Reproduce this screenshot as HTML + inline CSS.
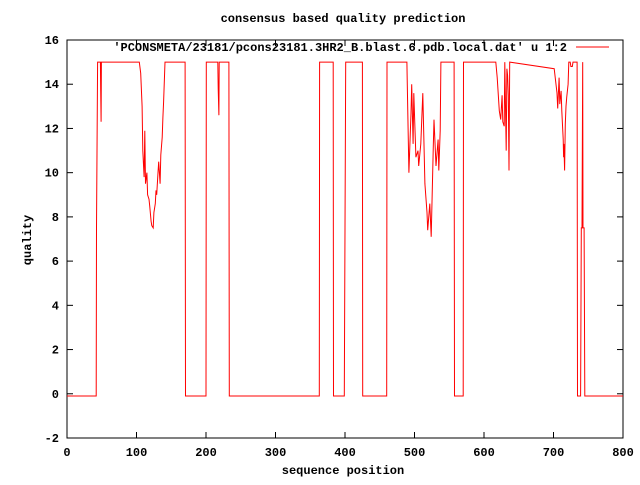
<!DOCTYPE html>
<html><head><meta charset="utf-8"><style>
body{margin:0;background:#fff}
svg text{font-family:"Liberation Mono",monospace;font-size:12px;font-weight:bold;fill:#000}
</style></head><body>
<svg id="chart" width="640" height="480" xmlns="http://www.w3.org/2000/svg">
<rect width="640" height="480" fill="#fff"/>
<text x="343" y="22" text-anchor="middle">consensus based quality prediction</text>
<text x="0" y="0" text-anchor="middle" transform="translate(31,240) rotate(-90)">quality</text>
<text x="343" y="474" text-anchor="middle">sequence position</text>
<g id="axes"></g>
<polyline id="series" fill="none" stroke="#f00" stroke-width="1"/>
<text x="567" y="51" text-anchor="end">'PCONSMETA/23181/pcons23181.3HR2_B.blast.6.pdb.local.dat' u 1:2</text>
<line x1="576" y1="47" x2="609" y2="47" stroke="#f00"/>
</svg>
<script>
const xTicks=[0,100,200,300,400,500,600,700,800];
const yTicks=[-2,0,2,4,6,8,10,12,14,16];
const positions=[
0,42,42.5,44,48,48.5,49,49.5,104,106,
108,109,111,112,113,115,116,118,119,121,
122,124,125,127,128,129,131,132,134,135,
137,138,139,141,170,170.5,200,200.5,217,217.5,
218.5,219,233,233.5,363,363.5,383,383.5,399,400,
401,425,425.5,460,460.5,489,489.5,492,495,496,
498,499,502,505,506,509,512,515,518,519,
522,524,527,528,531,534,535,537,538,557,
557.5,570,570.5,617,619,622,624,626,627,629,
630,632,633,634,635,636,637,701,705,706,
708,709,711,712,714,714.5,715,716,717,718,
719,721,722,724,725,727,728,734,734.5,739,
740,741,742,742.5,744,745,800];
const quality=[
-0.1,-0.1,7.5,15,15,13.7,12.3,15,15,14.5,
13,11,9.8,11.9,9.5,10,9,8.8,8.5,7.8,
7.6,7.5,8.2,8.6,9.2,9,10,10.5,9.5,10.8,
11.6,12.5,13.2,15,15,-0.1,-0.1,15,15,13.8,
12.6,15,15,-0.1,-0.1,15,15,-0.1,-0.1,7.5,
15,15,-0.1,-0.1,15,15,14.2,10.0,12.7,14.0,
11.3,13.6,10.7,11.0,10.3,11.3,13.6,9.5,8.2,7.4,
8.6,7.1,11.2,12.4,10.3,11.5,10.1,11.9,15,15,
-0.1,-0.1,15,15,14.3,12.8,12.4,13.5,12.3,12.1,
15,11.0,14.7,14.4,13.5,10.1,15,14.7,13.6,12.9,
14.3,13.1,13.7,12.8,11.5,10.7,11.3,10.1,12.2,13.0,
13.4,14.0,15,15,14.8,14.8,15,15,-0.1,-0.1,
7.5,7.5,15,7.5,7.5,-0.1,-0.1];
const X0=67,X1=623,Y0=438,Y1=40;
function sx(v){return X0+(v-0)/(800-0)*(X1-X0);}
function sy(v){return Y0-(v-(-2))/(16-(-2))*(Y0-Y1);}
const NS="http://www.w3.org/2000/svg";
const g=document.getElementById('axes');
function mk(tag,attrs){const e=document.createElementNS(NS,tag);for(const k in attrs)e.setAttribute(k,attrs[k]);g.appendChild(e);return e;}
const frame=mk('rect',{x:X0,y:Y1,width:X1-X0,height:Y0-Y1,fill:'none',stroke:'#000','stroke-width':1});


xTicks.forEach(t=>{
  const x=sx(t);
  const a=mk('line',{x1:x,y1:Y0,x2:x,y2:Y0-6,stroke:'#000'});
  
  
  const b=mk('line',{x1:x,y1:Y1,x2:x,y2:Y1+6,stroke:'#000'});
  
  
  const l=mk('text',{x:x,y:Y0+18,'text-anchor':'middle'});l.textContent=t;
  
  
});
yTicks.forEach(t=>{
  const y=sy(t);
  const a=mk('line',{x1:X0,y1:y,x2:X0+6,y2:y,stroke:'#000'});
  
  
  const b=mk('line',{x1:X1,y1:y,x2:X1-6,y2:y,stroke:'#000'});
  
  
  const l=mk('text',{x:X0-8,y:y+4,'text-anchor':'end'});l.textContent=t;
  
  
});
const n=Math.min(positions.length,quality.length);
const pts=[];
for(let i=0;i<n;i++)pts.push(sx(positions[i]).toFixed(1)+','+sy(quality[i]).toFixed(1));
document.getElementById('series').setAttribute('points',pts.join(' '));
</script>
</body></html>
